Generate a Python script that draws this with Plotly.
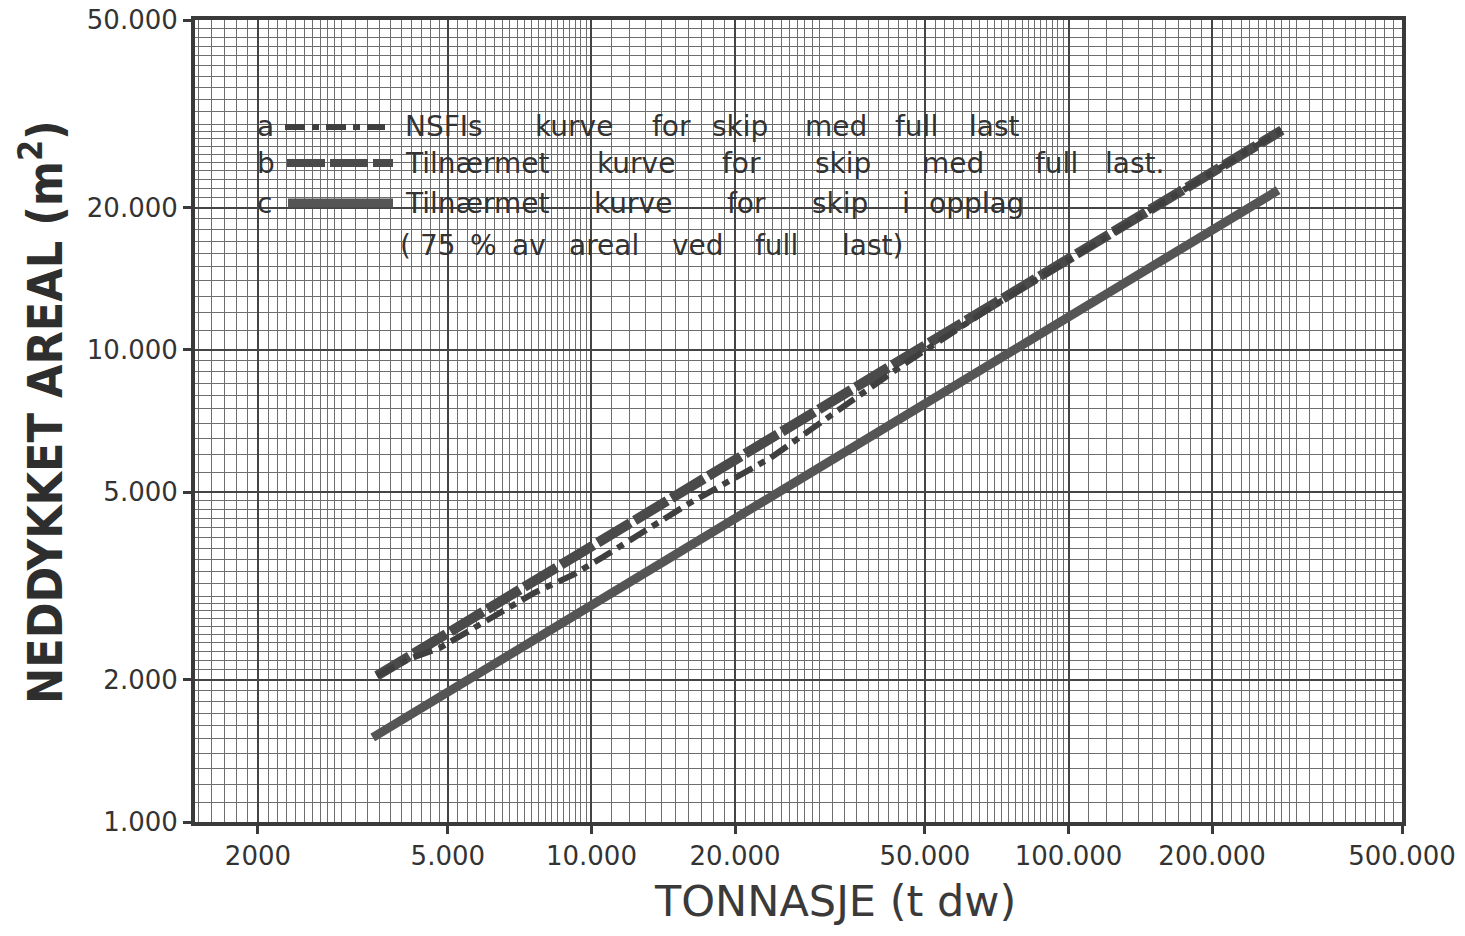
import numpy as np
import plotly.graph_objects as go

# ---------------- data ----------------
# a: NSFIs kurve for skip med full last (dash-dot)
x_a = [3550, 4125, 4820, 5780, 7550, 9150, 10570, 15850, 23700, 32100, 45000, 70000, 120000, 280000]
y_a = [2040, 2210, 2340, 2600, 3050, 3340, 3640, 4700, 5900, 7320, 9300, 12450, 17400, 29200]
# b: Tilnærmet kurve for skip med full last (dashed)
x_b = [3550, 280000]
y_b = [2040, 29200]
# c: Tilnærmet kurve for skip i opplag (solid)
x_c = [3480, 275000]
y_c = [1510, 21800]

x_tick_vals = [2000, 5000, 10000, 20000, 50000, 100000, 200000, 500000]
x_tick_text = ["2000", "5.000", "10.000", "20.000", "50.000", "100.000", "200.000", "500.000"]
y_tick_vals = [1000, 2000, 5000, 10000, 20000, 50000]
y_tick_text = ["1.000", "2.000", "5.000", "10.000", "20.000", "50.000"]

legend_letters = ["a", "b", "c", ""]
legend_words = [
    ["NSFIs", "kurve", "for", "skip", "med", "full", "last"],
    ["Tilnærmet", "kurve", "for", "skip", "med", "full", "last."],
    ["Tilnærmet", "kurve", "for", "skip", "i", "opplag"],
    ["(", "75", "%", "av", "areal", "ved", "full", "last)"],
]

# ---------------- layout geometry (page pixel coordinates) ----------------
PAGE_W, PAGE_H = 1465, 936
BODY = 8                      # default body margin of the html page
W, H = PAGE_W - 2 * BODY, PAGE_H - 2 * BODY
L, R, T, B = 195, 1402, 20, 822   # plot area on the page
X_RANGE = [np.log10(1476), np.log10(500000)]
Y_RANGE = [3.0, np.log10(50000)]

INK = "#4a4a4a"
GRID = "#6e6e6e"
GRID_MAJ = "#444444"
TXT = "#333333"


def px(xp):
    return (xp - L) / (R - L)


def py(yp):
    return (B - yp) / (B - T)


def paper_lines(decades, steps):
    vals = []
    for d in decades:
        for lo, hi, st in steps:
            m = lo
            while m < hi - 1e-9:
                vals.append(round(m * d, 6))
                m += st
    return vals


x_minor = paper_lines([1000, 10000, 100000],
                      [(1.0, 3.0, 0.1), (3.0, 5.0, 0.2), (5.0, 10.0, 0.25)]) + [500000]
y_minor = paper_lines([1000, 10000],
                      [(1.0, 3.0, 0.1), (3.0, 5.0, 0.2), (5.0, 10.0, 0.5)]) + [50000]
x_thick_extra = [m * d for d in [1000, 10000, 100000] for m in (3, 4)]
y_thick_extra = [m * d for d in [1000, 10000] for m in (3, 4)]

fig = go.Figure()

fig.add_trace(go.Scatter(x=x_c, y=y_c, mode="lines",
                         line=dict(color="#555555", width=9), showlegend=False))
fig.add_trace(go.Scatter(x=x_b, y=y_b, mode="lines",
                         line=dict(color=INK, width=10, dash="38px,5px"), showlegend=False))
fig.add_trace(go.Scatter(x=x_a, y=y_a, mode="lines",
                         line=dict(color="#3f3f3f", width=6, dash="20px,7px,7px,7px"),
                         showlegend=False))

axis_common = dict(type="log", showline=True, linecolor="#3a3a3a", linewidth=4,
                   mirror=True, zeroline=False, ticks="outside", ticklen=8,
                   tickwidth=3, tickcolor="#3a3a3a", tickmode="array",
                   showgrid=True, gridcolor=GRID_MAJ, gridwidth=2, automargin=False,
                   ticklabeloverflow="allow",
                   tickfont=dict(size=26, color=TXT, family="DejaVu Sans"))

fig.update_layout(
    width=W, height=H,
    margin=dict(l=L - BODY, r=W - (R - BODY), t=T - BODY, b=H - (B - BODY)),
    paper_bgcolor="white", plot_bgcolor="white",
    font=dict(family="DejaVu Sans, Noto Sans, sans-serif", color=TXT),
    xaxis=dict(**axis_common, range=X_RANGE, tickvals=x_tick_vals, ticktext=x_tick_text,
               minor=dict(tickmode="array", tickvals=x_minor, showgrid=True,
                          gridcolor=GRID, gridwidth=1, ticks="")),
    yaxis=dict(**axis_common, range=Y_RANGE, tickvals=y_tick_vals, ticktext=y_tick_text,
               minor=dict(tickmode="array", tickvals=y_minor, showgrid=True,
                          gridcolor=GRID, gridwidth=1, ticks="")),
)

# thicker rulings of the graph paper at 3 and 4 in each decade
for v in x_thick_extra:
    fig.add_shape(type="line", xref="x", yref="paper", x0=np.log10(v), x1=np.log10(v),
                  y0=0, y1=1, layer="between", line=dict(color=GRID_MAJ, width=2))
for v in y_thick_extra:
    fig.add_shape(type="line", xref="paper", yref="y", y0=np.log10(v), y1=np.log10(v),
                  x0=0, x1=1, layer="between", line=dict(color=GRID_MAJ, width=2))

# ---------------- legend drawn inside the plot ----------------
row_y = [127, 163, 203, 245]
row_words_x = [
    [403, 533, 650, 710, 803, 893, 967],
    [403, 595, 720, 813, 920, 1033, 1103],
    [403, 592, 725, 810, 900, 927],
    [398, 418, 468, 510, 567, 670, 753, 840],
]
sample_styles = [
    dict(color="#3f3f3f", width=6, dash="20px,7px,7px,7px"),
    dict(color=INK, width=8, dash="38px,5px"),
    dict(color="#555555", width=9),
]
sample_x = [(285, 385), (287, 393), (288, 393)]

for i, letter in enumerate(legend_letters):
    yy = py(row_y[i])
    if letter:
        fig.add_annotation(x=px(255), y=yy, xref="paper", yref="paper", text=letter,
                           showarrow=False, xanchor="left", yanchor="middle",
                           font=dict(size=28, color=TXT))
        x0, x1 = sample_x[i]
        fig.add_shape(type="line", xref="paper", yref="paper",
                      x0=px(x0), x1=px(x1), y0=yy, y1=yy, line=sample_styles[i])
    for w, xw in zip(legend_words[i], row_words_x[i]):
        fig.add_annotation(x=px(xw), y=yy, xref="paper", yref="paper", text=w,
                           showarrow=False, xanchor="left", yanchor="middle",
                           font=dict(size=28, color=TXT))

# ---------------- axis titles ----------------
fig.add_annotation(x=px(42), y=py(412), xref="paper", yref="paper",
                   text="NEDDYKKET AREAL (m<sup>2</sup>)", textangle=-90, showarrow=False,
                   xanchor="center", yanchor="middle",
                   font=dict(size=48, color="#2e2e2e",
                             family="DejaVu Sans Condensed, DejaVu Sans", weight="bold"))
fig.add_annotation(x=px(835), y=py(901), xref="paper", yref="paper",
                   text="TONNASJE (t dw)", showarrow=False,
                   xanchor="center", yanchor="middle",
                   font=dict(size=43, color="#3a3a3a", family="DejaVu Sans"))

fig.write_html("out.html")
